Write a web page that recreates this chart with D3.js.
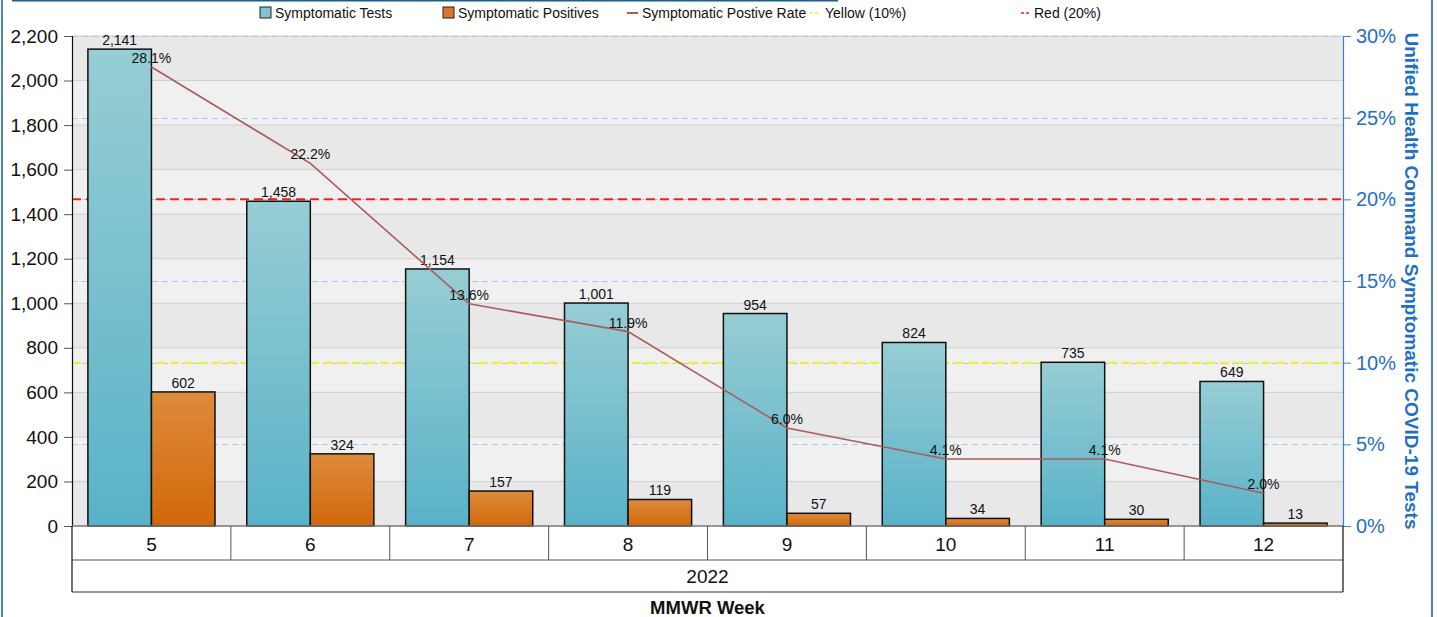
<!DOCTYPE html>
<html><head><meta charset="utf-8">
<script src="https://cdn.jsdelivr.net/npm/d3@7"></script>
<style>body{margin:0;background:#fff;overflow:hidden}svg{display:block;font-family:"Liberation Sans",Arial,sans-serif}</style>
</head><body>
<svg id="c" width="1438" height="617"></svg>
<script>
const weeks = ["5","6","7","8","9","10","11","12"];
const year = "2022";
const tests = [2141,1458,1154,1001,954,824,735,649];
const positives = [602,324,157,119,57,34,30,13];
const rate = [28.1,22.2,13.6,11.9,6.0,4.1,4.1,2.0];
const leftTicks = [0,200,400,600,800,1000,1200,1400,1600,1800,2000,2200];
const rightTicks = [0,5,10,15,20,25,30];
const yellowLevel = 10, redLevel = 20;
const legendLabels = ["Symptomatic Tests","Symptomatic Positives","Symptomatic Postive Rate","Yellow (10%)","Red (20%)"];
const rightTitle = "Unified Health Command Symptomatic COVID-19 Tests";
const xTitle = "MMWR Week";

const svg = d3.select("#c");
const L = 72, R = 1343, T = 36, B = 526;
const y = d3.scaleLinear().domain([0,2200]).range([B,T]);
const y2 = d3.scaleLinear().domain([0,30]).range([B,T]);
const x = d3.scaleBand().domain(weeks).range([L,R]);
const inner = d3.scaleBand().domain(["t","p"]).range([0,x.bandwidth()]).paddingOuter(0.25).paddingInner(0);

const defs = svg.append("defs");
const g1 = defs.append("linearGradient").attr("id","gt").attr("x1",0).attr("y1",0).attr("x2",0).attr("y2",1);
g1.append("stop").attr("offset","0%").attr("stop-color","#97cdd4");
g1.append("stop").attr("offset","100%").attr("stop-color","#59b2c8");
const g2 = defs.append("linearGradient").attr("id","gp").attr("x1",0).attr("y1",0).attr("x2",0).attr("y2",1);
g2.append("stop").attr("offset","0%").attr("stop-color","#de8b3c");
g2.append("stop").attr("offset","100%").attr("stop-color","#d1680a");

// frame
svg.append("line").attr("x1",2).attr("x2",2).attr("y1",0).attr("y2",617).attr("stroke","#4f81bd").attr("stroke-width",2);
svg.append("line").attr("x1",1432).attr("x2",1432).attr("y1",0).attr("y2",617).attr("stroke","#4f81bd").attr("stroke-width",2);
svg.append("line").attr("x1",12).attr("x2",838).attr("y1",0.5).attr("y2",0.5).attr("stroke","#1f5f8b").attr("stroke-width",2);

// bands
const bands = d3.range(leftTicks.length-1);
svg.append("g").selectAll("rect").data(bands).join("rect")
  .attr("x",L).attr("width",R-L)
  .attr("y",i=>y(leftTicks[i+1])).attr("height",i=>y(leftTicks[i])-y(leftTicks[i+1]))
  .attr("fill",i=>((leftTicks.length-2-i)%2===0)?"#e8e8e8":"#f0f0f0");
// grid
svg.append("g").selectAll("line").data(leftTicks.slice(1)).join("line")
  .attr("x1",L).attr("x2",R).attr("y1",d=>y(d)).attr("y2",d=>y(d))
  .attr("stroke","#cfcfcf").attr("stroke-width",1);
svg.append("g").selectAll("line").data(rightTicks.slice(1)).join("line")
  .attr("x1",L).attr("x2",R).attr("y1",d=>Math.round(y2(d))+0.5).attr("y2",d=>Math.round(y2(d))+0.5)
  .attr("stroke","#a9c9f2").attr("stroke-width",1).attr("stroke-dasharray","6,4");
// thresholds
svg.append("line").attr("x1",L).attr("x2",R).attr("y1",y2(redLevel)).attr("y2",y2(redLevel))
  .attr("stroke","#ff1a1a").attr("stroke-width",2).attr("stroke-dasharray","9,5");
svg.append("line").attr("x1",L).attr("x2",R).attr("y1",y2(yellowLevel)).attr("y2",y2(yellowLevel))
  .attr("stroke","#f2f21e").attr("stroke-width",2).attr("stroke-dasharray","9,5");

// bars
const gb = svg.append("g");
gb.selectAll(".t").data(tests).join("rect")
  .attr("x",(d,i)=>x(weeks[i])+inner("t")).attr("width",inner.bandwidth())
  .attr("y",d=>y(d)).attr("height",d=>B-y(d))
  .attr("fill","url(#gt)").attr("stroke","#111").attr("stroke-width",1.5);
gb.selectAll(".p").data(positives).join("rect")
  .attr("x",(d,i)=>x(weeks[i])+inner("p")).attr("width",inner.bandwidth())
  .attr("y",d=>y(d)).attr("height",d=>B-y(d))
  .attr("fill","url(#gp)").attr("stroke","#111").attr("stroke-width",1.5);
const fmt = d3.format(",");
gb.selectAll(".tl").data(tests).join("text")
  .attr("x",(d,i)=>x(weeks[i])+inner("t")+inner.bandwidth()/2).attr("y",d=>y(d)-4)
  .attr("text-anchor","middle").attr("font-size",14).attr("fill","#111").text(d=>fmt(d));
gb.selectAll(".pl").data(positives).join("text")
  .attr("x",(d,i)=>x(weeks[i])+inner("p")+inner.bandwidth()/2).attr("y",d=>y(d)-4)
  .attr("text-anchor","middle").attr("font-size",14).attr("fill","#111").text(d=>fmt(d));

// line
const cx = i=>x(weeks[i])+x.bandwidth()/2;
svg.append("path").datum(rate)
  .attr("d",d3.line().x((d,i)=>cx(i)).y(d=>y2(d)))
  .attr("fill","none").attr("stroke","#a95c5c").attr("stroke-width",1.6);
svg.append("g").selectAll("text").data(rate).join("text")
  .attr("x",(d,i)=>cx(i)).attr("y",d=>y2(d)-4)
  .attr("text-anchor","middle").attr("font-size",14).attr("fill","#111").text(d=>d.toFixed(1)+"%");

// left axis
const ax = svg.append("g").attr("transform",`translate(${L},0)`)
  .call(d3.axisLeft(y).tickValues(leftTicks).tickFormat(fmt).tickSize(8).tickPadding(6));
ax.select(".domain").attr("stroke","#111").attr("stroke-width",1.2);
ax.selectAll(".tick line").attr("stroke","#555");
ax.selectAll("text").attr("font-size",19).attr("fill","#111").attr("font-family","Liberation Sans, Arial, sans-serif");
// right axis
const ar = svg.append("g").attr("transform",`translate(${R},0)`)
  .call(d3.axisRight(y2).tickValues(rightTicks).tickFormat(d=>d+"%").tickSize(8).tickPadding(5));
ar.select(".domain").attr("stroke","#3a7fd0").attr("stroke-width",1.2);
ar.selectAll(".tick line").attr("stroke","#3a7fd0");
ar.selectAll("text").attr("font-size",20).attr("fill","#1f6fc8").attr("font-family","Liberation Sans, Arial, sans-serif");
svg.append("text").attr("transform",`translate(1405,${(T+B)/2}) rotate(90)`)
  .attr("text-anchor","middle").attr("font-size",19).attr("font-weight","bold").attr("fill","#1f6fc8").text(rightTitle);

// category box
const cb = svg.append("g");
cb.append("line").attr("x1",L).attr("x2",R).attr("y1",B).attr("y2",B).attr("stroke","#777").attr("stroke-width",1.5);
cb.append("line").attr("x1",L).attr("x2",R).attr("y1",560).attr("y2",560).attr("stroke","#555").attr("stroke-width",1);
cb.append("line").attr("x1",L).attr("x2",R).attr("y1",592).attr("y2",592).attr("stroke","#777").attr("stroke-width",1.5);
cb.append("line").attr("x1",L).attr("x2",L).attr("y1",B).attr("y2",592).attr("stroke","#111").attr("stroke-width",1.2);
cb.append("line").attr("x1",R).attr("x2",R).attr("y1",B).attr("y2",592).attr("stroke","#111").attr("stroke-width",1.2);
cb.selectAll(".dv").data(weeks.slice(1)).join("line")
  .attr("x1",d=>x(d)).attr("x2",d=>x(d)).attr("y1",B).attr("y2",560).attr("stroke","#555").attr("stroke-width",1);
cb.selectAll(".wk").data(weeks).join("text")
  .attr("x",d=>x(d)+x.bandwidth()/2).attr("y",551).attr("text-anchor","middle")
  .attr("font-size",19).attr("fill","#111").text(d=>d);
cb.append("text").attr("x",(L+R)/2).attr("y",583).attr("text-anchor","middle").attr("font-size",19).attr("fill","#111").text(year);
svg.append("text").attr("x",(L+R)/2).attr("y",614).attr("text-anchor","middle").attr("font-size",18.5).attr("font-weight","bold").attr("fill","#111").text(xTitle);

// legend
const lg = svg.append("g").attr("font-size",14).attr("fill","#111");
const lgX = [260,443,627,810,1021];
lg.append("rect").attr("x",lgX[0]).attr("y",7).attr("width",11).attr("height",11).attr("fill","#7fc3cf").attr("stroke","#222");
lg.append("rect").attr("x",lgX[1]).attr("y",7).attr("width",11).attr("height",11).attr("fill","#d9782a").attr("stroke","#222");
lg.append("line").attr("x1",lgX[2]).attr("x2",lgX[2]+11).attr("y1",13).attr("y2",13).attr("stroke","#a95c5c").attr("stroke-width",2);
lg.append("line").attr("x1",lgX[3]).attr("x2",lgX[3]+10).attr("y1",13).attr("y2",13).attr("stroke","#f2f21e").attr("stroke-width",1.5).attr("stroke-dasharray","3,2");
lg.append("line").attr("x1",lgX[4]).attr("x2",lgX[4]+10).attr("y1",13).attr("y2",13).attr("stroke","#ff1a1a").attr("stroke-width",1.5).attr("stroke-dasharray","3,2");
const txX = [275,458,642,825,1034];
lg.selectAll("text").data(legendLabels).join("text").attr("x",(d,i)=>txX[i]).attr("y",18).text(d=>d);
</script>
</body></html>
